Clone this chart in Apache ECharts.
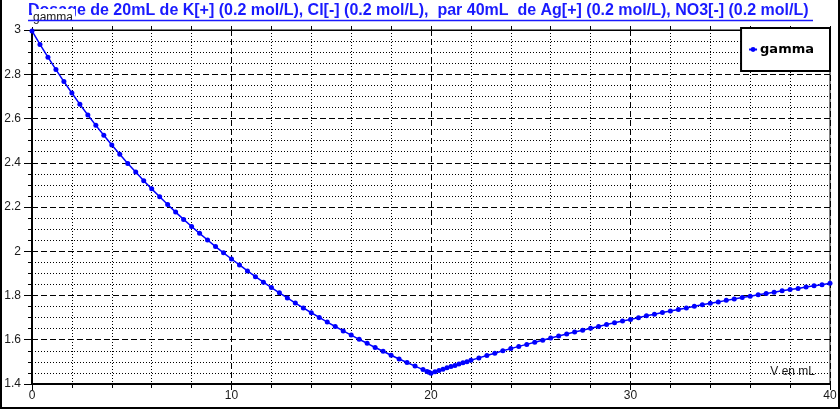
<!DOCTYPE html>
<html>
<head>
<meta charset="utf-8">
<script src="https://cdn.jsdelivr.net/npm/echarts@6/dist/echarts.min.js"></script>
<style>html,body{margin:0;padding:0;background:#fff}#c{width:840px;height:410px}</style>
</head>
<body>
<div id="c"></div>
<script>
const titleText = 'Dosage de 20mL de K[+] (0.2 mol/L), Cl[-] (0.2 mol/L),  par 40mL  de Ag[+] (0.2 mol/L), NO3[-] (0.2 mol/L)';
const seriesName = 'gamma';
const xName = 'V en mL';
const yName = 'gamma';
const vol = [0,0.4,0.8,1.2,1.6,2,2.4,2.8,3.2,3.6,4,4.4,4.8,5.2,5.6,6,6.4,6.8,7.2,7.6,8,8.4,8.8,9.2,9.6,10,10.4,10.8,11.2,11.6,12,12.4,12.8,13.2,13.6,14,14.4,14.8,15.2,15.6,16,16.4,16.8,17.2,17.6,18,18.4,18.8,19.2,19.6,19.8,19.9,20,20.2,20.4,20.6,20.8,21,21.2,21.4,21.6,21.8,22,22.4,22.8,23.2,23.6,24,24.4,24.8,25.2,25.6,26,26.4,26.8,27.2,27.6,28,28.4,28.8,29.2,29.6,30,30.4,30.8,31.2,31.6,32,32.4,32.8,33.2,33.6,34,34.4,34.8,35.2,35.6,36,36.4,36.8,37.2,37.6,38,38.4,38.8,39.2,39.6,40];
const gamma = [2.996,2.935,2.877,2.821,2.767,2.715,2.664,2.616,2.569,2.524,2.480,2.438,2.397,2.358,2.319,2.282,2.246,2.211,2.177,2.144,2.112,2.081,2.051,2.021,1.993,1.965,1.938,1.911,1.885,1.860,1.836,1.812,1.789,1.766,1.744,1.722,1.701,1.680,1.660,1.640,1.621,1.602,1.584,1.565,1.548,1.530,1.513,1.497,1.481,1.465,1.457,1.453,1.449,1.455,1.461,1.467,1.473,1.479,1.484,1.490,1.496,1.501,1.507,1.518,1.529,1.539,1.550,1.560,1.570,1.579,1.589,1.598,1.608,1.617,1.626,1.635,1.643,1.652,1.660,1.669,1.677,1.685,1.692,1.700,1.708,1.715,1.723,1.730,1.737,1.744,1.751,1.758,1.765,1.771,1.778,1.784,1.791,1.797,1.803,1.809,1.815,1.821,1.827,1.832,1.838,1.844,1.849,1.855];

const chart = echarts.init(document.getElementById('c'), null, {renderer: 'canvas'});
const data = vol.map((v, i) => [v, gamma[i]]);
const lab = {fontFamily: 'Liberation Sans', fontSize: 12, color: '#1a1a1a'};
chart.setOption({
  animation: false,
  backgroundColor: '#fff',
  title: {
    text: titleText, left: 28, top: 3, padding: 0, z: 0,
    textStyle: {fontFamily: 'Liberation Sans', fontWeight: 'bold', fontSize: 16, color: '#1a1aff'}
  },
  legend: {
    right: 10, top: 28, orient: 'vertical',
    backgroundColor: '#fff', borderColor: '#000', borderWidth: 2,
    padding: [15, 16, 15, 7], itemWidth: 8, itemHeight: 6, itemGap: 0,
    textStyle: {fontFamily: 'DejaVu Sans', fontWeight: 'bold', fontSize: 13, color: '#000', padding: [0,0,0,-2]},
    data: [seriesName]
  },
  grid: {left: 32, right: 10, top: 30, bottom: 26, show: true, borderColor: '#000', borderWidth: 1, backgroundColor: 'transparent'},
  xAxis: [{
    type: 'value', min: 0, max: 40, interval: 10,
    name: xName, nameLocation: 'end', nameGap: -15,
    nameTextStyle: Object.assign({}, lab, {align: 'right', verticalAlign: 'bottom', padding: [0,0,6,0]}),
    axisLine: {show: true, lineStyle: {color: '#000', width: 2}},
    axisTick: {show: true, length: 6, lineStyle: {color: '#000'}},
    minorTick: {show: true, splitNumber: 5, length: 4, lineStyle: {color: '#000'}},
    axisLabel: Object.assign({}, lab, {margin: 6}),
    splitLine: {show: true, lineStyle: {color: '#000', type: [6, 3], width: 1}},
    minorSplitLine: {show: true, lineStyle: {color: '#000', type: [1, 2], width: 1}}
  }, {
    type: 'value', min: 0, max: 40, interval: 10, position: 'top',
    axisLine: {show: true, lineStyle: {color: '#000', width: 1}},
    axisTick: {show: true, length: 4, lineStyle: {color: '#000'}},
    minorTick: {show: true, splitNumber: 5, length: 4, lineStyle: {color: '#000'}},
    axisLabel: {show: false}, splitLine: {show: false}
  }],
  yAxis: [{
    type: 'value', min: 1.4, max: 3, interval: 0.2, z: 1,
    name: yName, nameLocation: 'end', nameGap: 12,
    nameTextStyle: Object.assign({}, lab, {align: 'left', verticalAlign: 'middle', backgroundColor: '#fff', padding: [3, 2, 3, 1]}),
    axisLine: {show: true, lineStyle: {color: '#000', width: 2}},
    axisTick: {show: true, length: 8, lineStyle: {color: '#000'}},
    minorTick: {show: true, splitNumber: 4, length: 4, lineStyle: {color: '#000'}},
    axisLabel: Object.assign({}, lab, {margin: 11}),
    splitLine: {show: true, lineStyle: {color: '#000', type: [6, 3], width: 1}},
    minorSplitLine: {show: true, lineStyle: {color: '#000', type: [1, 2], width: 1}}
  }, {
    type: 'value', min: 1.4, max: 3, interval: 0.2, position: 'right',
    axisLine: {show: true, lineStyle: {color: '#000', width: 2}},
    axisTick: {show: false}, axisLabel: {show: false}, splitLine: {show: false}
  }],
  series: [{
    name: seriesName, type: 'line', data: data,
    xAxisIndex: 0, yAxisIndex: 0,
    symbol: 'circle', symbolSize: 5, showSymbol: true,
    lineStyle: {color: '#0000ff', width: 1.5},
    itemStyle: {color: '#0000ff'}
  }],
  graphic: [
    {type: 'line', z: 5, shape: {x1: 28, y1: 20.5, x2: 813, y2: 20.5}, style: {stroke: '#1a1aff', lineWidth: 1.5}},
    {type: 'polyline', z: 5, shape: {points: [[1, 0], [1, 408], [839, 408], [839, 0]]}, style: {stroke: '#000', lineWidth: 2, fill: null}}
  ]
});
</script>
</body>
</html>
